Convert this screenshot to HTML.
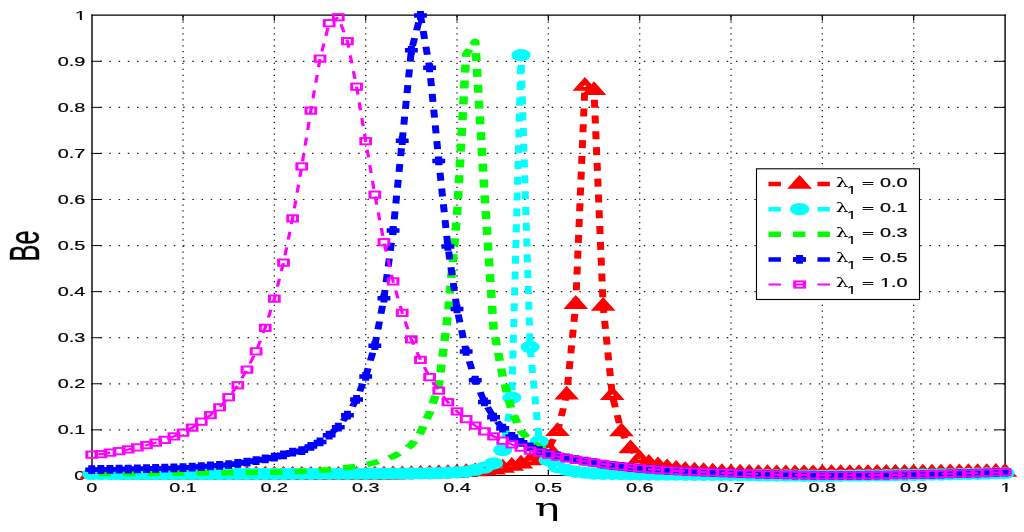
<!DOCTYPE html>
<html lang="en"><head><meta charset="utf-8"><title>Be vs η</title><style>html,body{margin:0;padding:0;background:#fff;overflow:hidden}body{width:1024px;height:532px}</style></head><body><svg width="1024" height="532" viewBox="0 0 1024 532" style="display:block"><defs><clipPath id="c0"><path d="M-16.8 -41.0H14.2V-5.4H3.4V1.0H-1.6V-5.4H-16.8Z"/></clipPath><clipPath id="c1"><path d="M-31.0 -41.0H-0.0V-5.4H-10.8V1.0H-15.9V-5.4H-31.0Z"/></clipPath><clipPath id="c2"><path d="M-2.2 -35.2H24.5V-4.6H15.2V0.9H10.8V-4.6H-2.2Z"/></clipPath><clipPath id="c3"><path d="M-2.6 -41.0H28.5V-5.4H17.7V1.0H12.6V-5.4H-2.6ZM28.5 -41.0H73.7V2.6H28.5Z"/></clipPath></defs><rect x="0" y="0" width="1024" height="532" fill="#fff"/>
<g stroke="#1a1a1a" fill="none"><line x1="183.03" y1="15.68" x2="183.03" y2="475.5" stroke-width="1.3" stroke-dasharray="1.25 4.647"/><line x1="274.36" y1="15.68" x2="274.36" y2="475.5" stroke-width="1.3" stroke-dasharray="1.25 4.647"/><line x1="365.69" y1="15.68" x2="365.69" y2="475.5" stroke-width="1.3" stroke-dasharray="1.25 4.647"/><line x1="457.02" y1="15.68" x2="457.02" y2="475.5" stroke-width="1.3" stroke-dasharray="1.25 4.647"/><line x1="548.35" y1="15.68" x2="548.35" y2="475.5" stroke-width="1.3" stroke-dasharray="1.25 4.647"/><line x1="639.68" y1="15.68" x2="639.68" y2="475.5" stroke-width="1.3" stroke-dasharray="1.25 4.647"/><line x1="731.01" y1="15.68" x2="731.01" y2="475.5" stroke-width="1.3" stroke-dasharray="1.25 4.647"/><line x1="822.34" y1="15.68" x2="822.34" y2="475.5" stroke-width="1.3" stroke-dasharray="1.25 4.647"/><line x1="913.67" y1="15.68" x2="913.67" y2="475.5" stroke-width="1.3" stroke-dasharray="1.25 4.647"/><line x1="90.95" y1="429.85" x2="1005.0" y2="429.85" stroke-width="1.2" stroke-dasharray="1.5 7.714"/><line x1="90.95" y1="383.78" x2="1005.0" y2="383.78" stroke-width="1.2" stroke-dasharray="1.5 7.714"/><line x1="90.95" y1="337.71" x2="1005.0" y2="337.71" stroke-width="1.2" stroke-dasharray="1.5 7.714"/><line x1="90.95" y1="291.64" x2="1005.0" y2="291.64" stroke-width="1.2" stroke-dasharray="1.5 7.714"/><line x1="90.95" y1="245.57" x2="1005.0" y2="245.57" stroke-width="1.2" stroke-dasharray="1.5 7.714"/><line x1="90.95" y1="199.50" x2="1005.0" y2="199.50" stroke-width="1.2" stroke-dasharray="1.5 7.714"/><line x1="90.95" y1="153.43" x2="1005.0" y2="153.43" stroke-width="1.2" stroke-dasharray="1.5 7.714"/><line x1="90.95" y1="107.36" x2="1005.0" y2="107.36" stroke-width="1.2" stroke-dasharray="1.5 7.714"/><line x1="90.95" y1="61.29" x2="1005.0" y2="61.29" stroke-width="1.2" stroke-dasharray="1.5 7.714"/></g>
<path d="M92.0 14.6V476.1M1005.1 14.6V476.1" stroke="#000" stroke-width="1.4" fill="none"/><path d="M91.4 15.2H1005.7M91.4 475.5H1005.7" stroke="#000" stroke-width="1.2" fill="none"/><path d="M183.03 475.5v-5.5M183.03 15.2v5.5" stroke="#000" stroke-width="1.2"/><path d="M91.7 429.85h10.0M1005.0 429.85h-10.0" stroke="#000" stroke-width="1"/><path d="M274.36 475.5v-5.5M274.36 15.2v5.5" stroke="#000" stroke-width="1.2"/><path d="M91.7 383.78h10.0M1005.0 383.78h-10.0" stroke="#000" stroke-width="1"/><path d="M365.69 475.5v-5.5M365.69 15.2v5.5" stroke="#000" stroke-width="1.2"/><path d="M91.7 337.71h10.0M1005.0 337.71h-10.0" stroke="#000" stroke-width="1"/><path d="M457.02 475.5v-5.5M457.02 15.2v5.5" stroke="#000" stroke-width="1.2"/><path d="M91.7 291.64h10.0M1005.0 291.64h-10.0" stroke="#000" stroke-width="1"/><path d="M548.35 475.5v-5.5M548.35 15.2v5.5" stroke="#000" stroke-width="1.2"/><path d="M91.7 245.57h10.0M1005.0 245.57h-10.0" stroke="#000" stroke-width="1"/><path d="M639.68 475.5v-5.5M639.68 15.2v5.5" stroke="#000" stroke-width="1.2"/><path d="M91.7 199.50h10.0M1005.0 199.50h-10.0" stroke="#000" stroke-width="1"/><path d="M731.01 475.5v-5.5M731.01 15.2v5.5" stroke="#000" stroke-width="1.2"/><path d="M91.7 153.43h10.0M1005.0 153.43h-10.0" stroke="#000" stroke-width="1"/><path d="M822.34 475.5v-5.5M822.34 15.2v5.5" stroke="#000" stroke-width="1.2"/><path d="M91.7 107.36h10.0M1005.0 107.36h-10.0" stroke="#000" stroke-width="1"/><path d="M913.67 475.5v-5.5M913.67 15.2v5.5" stroke="#000" stroke-width="1.2"/><path d="M91.7 61.29h10.0M1005.0 61.29h-10.0" stroke="#000" stroke-width="1"/>
<text transform="translate(91.70,491.70) scale(0.3875,0.2500)" text-anchor="middle" font-family="'Liberation Sans', sans-serif" font-size="51.2" fill="#000" stroke="#000" stroke-width="0.8">0</text><text transform="translate(85.20,480.37) scale(0.3875,0.2500)" text-anchor="end" font-family="'Liberation Sans', sans-serif" font-size="51.2" fill="#000" stroke="#000" stroke-width="0.8">0</text><text transform="translate(183.03,491.70) scale(0.3875,0.2500)" text-anchor="middle" font-family="'Liberation Sans', sans-serif" font-size="51.2" fill="#000" stroke="#000" stroke-width="0.8">0.1</text><text transform="translate(85.20,434.30) scale(0.3875,0.2500)" text-anchor="end" font-family="'Liberation Sans', sans-serif" font-size="51.2" fill="#000" stroke="#000" stroke-width="0.8">0.1</text><text transform="translate(274.36,491.70) scale(0.3875,0.2500)" text-anchor="middle" font-family="'Liberation Sans', sans-serif" font-size="51.2" fill="#000" stroke="#000" stroke-width="0.8">0.2</text><text transform="translate(85.20,388.23) scale(0.3875,0.2500)" text-anchor="end" font-family="'Liberation Sans', sans-serif" font-size="51.2" fill="#000" stroke="#000" stroke-width="0.8">0.2</text><text transform="translate(365.69,491.70) scale(0.3875,0.2500)" text-anchor="middle" font-family="'Liberation Sans', sans-serif" font-size="51.2" fill="#000" stroke="#000" stroke-width="0.8">0.3</text><text transform="translate(85.20,342.16) scale(0.3875,0.2500)" text-anchor="end" font-family="'Liberation Sans', sans-serif" font-size="51.2" fill="#000" stroke="#000" stroke-width="0.8">0.3</text><text transform="translate(457.02,491.70) scale(0.3875,0.2500)" text-anchor="middle" font-family="'Liberation Sans', sans-serif" font-size="51.2" fill="#000" stroke="#000" stroke-width="0.8">0.4</text><text transform="translate(85.20,296.09) scale(0.3875,0.2500)" text-anchor="end" font-family="'Liberation Sans', sans-serif" font-size="51.2" fill="#000" stroke="#000" stroke-width="0.8">0.4</text><text transform="translate(548.35,491.70) scale(0.3875,0.2500)" text-anchor="middle" font-family="'Liberation Sans', sans-serif" font-size="51.2" fill="#000" stroke="#000" stroke-width="0.8">0.5</text><text transform="translate(85.20,250.02) scale(0.3875,0.2500)" text-anchor="end" font-family="'Liberation Sans', sans-serif" font-size="51.2" fill="#000" stroke="#000" stroke-width="0.8">0.5</text><text transform="translate(639.68,491.70) scale(0.3875,0.2500)" text-anchor="middle" font-family="'Liberation Sans', sans-serif" font-size="51.2" fill="#000" stroke="#000" stroke-width="0.8">0.6</text><text transform="translate(85.20,203.95) scale(0.3875,0.2500)" text-anchor="end" font-family="'Liberation Sans', sans-serif" font-size="51.2" fill="#000" stroke="#000" stroke-width="0.8">0.6</text><text transform="translate(731.01,491.70) scale(0.3875,0.2500)" text-anchor="middle" font-family="'Liberation Sans', sans-serif" font-size="51.2" fill="#000" stroke="#000" stroke-width="0.8">0.7</text><text transform="translate(85.20,157.88) scale(0.3875,0.2500)" text-anchor="end" font-family="'Liberation Sans', sans-serif" font-size="51.2" fill="#000" stroke="#000" stroke-width="0.8">0.7</text><text transform="translate(822.34,491.70) scale(0.3875,0.2500)" text-anchor="middle" font-family="'Liberation Sans', sans-serif" font-size="51.2" fill="#000" stroke="#000" stroke-width="0.8">0.8</text><text transform="translate(85.20,111.81) scale(0.3875,0.2500)" text-anchor="end" font-family="'Liberation Sans', sans-serif" font-size="51.2" fill="#000" stroke="#000" stroke-width="0.8">0.8</text><text transform="translate(913.67,491.70) scale(0.3875,0.2500)" text-anchor="middle" font-family="'Liberation Sans', sans-serif" font-size="51.2" fill="#000" stroke="#000" stroke-width="0.8">0.9</text><text transform="translate(85.20,65.74) scale(0.3875,0.2500)" text-anchor="end" font-family="'Liberation Sans', sans-serif" font-size="51.2" fill="#000" stroke="#000" stroke-width="0.8">0.9</text><text transform="translate(1005.90,491.70) scale(0.3875,0.2500)" text-anchor="middle" font-family="'Liberation Sans', sans-serif" font-size="51.2" fill="#000" stroke="#000" stroke-width="0.8" clip-path="url(#c0)">1</text><text transform="translate(86.10,19.67) scale(0.3875,0.2500)" text-anchor="end" font-family="'Liberation Sans', sans-serif" font-size="51.2" fill="#000" stroke="#000" stroke-width="0.8" clip-path="url(#c1)">1</text>
<text transform="translate(39.20,246.00) scale(0.4200,0.2500) rotate(-90)" text-anchor="middle" font-family="'Liberation Sans', sans-serif" font-size="101.2" fill="#000" stroke="#000" stroke-width="1.0">Be</text>
<text transform="translate(547.00,515.90) scale(0.4275,0.2500)" text-anchor="middle" font-family="'DejaVu Serif', 'Liberation Serif', serif" font-size="98.4" fill="#000">η</text>
<g transform="translate(91.7,0) scale(1.55,1)"><polyline points="0.00,474.02 5.89,474.23 11.78,474.43 17.68,474.61 23.57,474.78 29.46,474.94 35.35,474.95 41.25,474.96 47.14,474.97 53.03,474.98 58.92,474.99 64.81,475.00 70.71,475.01 76.60,475.02 82.49,475.03 88.38,475.03 94.28,475.04 100.17,475.05 106.06,475.06 111.95,475.07 117.85,475.08 123.74,475.09 129.63,475.10 135.52,475.11 141.41,475.12 147.31,475.13 153.20,475.13 159.09,475.14 164.98,475.15 170.88,475.16 176.77,475.17 182.66,475.05 188.55,474.92 194.44,474.78 200.34,474.63 206.23,474.48 212.12,474.25 218.01,473.99 223.91,473.72 229.80,473.42 235.69,473.10 241.58,472.46 247.47,471.72 253.37,470.87 259.26,469.88 265.15,468.04 271.04,466.20 276.94,463.90 282.83,460.68 288.72,456.08 294.61,448.72 300.51,431.47 306.40,394.90 312.29,304.28 318.18,86.24" fill="none" stroke="#f00" stroke-width="4.5" stroke-dasharray="8 7.8" stroke-dashoffset="12.04" stroke-linejoin="round"/>
<polyline points="318.18,86.24 318.18,86.24 324.07,90.38 329.97,306.12 335.86,395.36 341.75,431.70 347.64,448.72 353.54,458.84 359.43,463.21 365.32,465.74 371.21,467.67 377.10,469.11 383.00,470.34 388.89,470.96 394.78,471.52 400.67,472.03 406.57,472.49 412.46,472.92 418.35,473.07 424.24,473.23 430.13,473.37 436.03,473.52 441.92,473.65 447.81,473.63 453.70,473.62 459.60,473.60 465.49,473.58 471.38,473.56 477.27,473.52 483.17,473.47 489.06,473.43 494.95,473.38 500.84,473.34 506.73,473.29 512.63,473.24 518.52,473.20 524.41,473.15 530.30,473.10 536.20,473.02 542.09,472.93 547.98,472.84 553.87,472.75 559.76,472.66 565.66,472.57 571.55,472.48 577.44,472.38 583.33,472.28 589.23,472.18" fill="none" stroke="#f00" stroke-width="4.5" stroke-dasharray="8 7.8" stroke-dashoffset="15.07" stroke-linejoin="round"/>
<polygon points="0.00,468.77 -4.55,476.64 4.55,476.64" fill="none" stroke="#f00" stroke-width="3.95" stroke-linejoin="miter"/>
<polygon points="5.89,468.98 1.34,476.85 10.44,476.85" fill="none" stroke="#f00" stroke-width="3.95" stroke-linejoin="miter"/>
<polygon points="11.78,469.18 7.23,477.05 16.33,477.05" fill="none" stroke="#f00" stroke-width="3.95" stroke-linejoin="miter"/>
<polygon points="17.68,469.36 13.13,477.23 22.23,477.23" fill="none" stroke="#f00" stroke-width="3.95" stroke-linejoin="miter"/>
<polygon points="23.57,469.53 19.02,477.40 28.12,477.40" fill="none" stroke="#f00" stroke-width="3.95" stroke-linejoin="miter"/>
<polygon points="29.46,469.69 24.91,477.56 34.01,477.56" fill="none" stroke="#f00" stroke-width="3.95" stroke-linejoin="miter"/>
<polygon points="35.35,469.70 30.80,477.57 39.90,477.57" fill="none" stroke="#f00" stroke-width="3.95" stroke-linejoin="miter"/>
<polygon points="41.25,469.71 36.70,477.58 45.80,477.58" fill="none" stroke="#f00" stroke-width="3.95" stroke-linejoin="miter"/>
<polygon points="47.14,469.72 42.59,477.59 51.69,477.59" fill="none" stroke="#f00" stroke-width="3.95" stroke-linejoin="miter"/>
<polygon points="53.03,469.73 48.48,477.60 57.58,477.60" fill="none" stroke="#f00" stroke-width="3.95" stroke-linejoin="miter"/>
<polygon points="58.92,469.74 54.37,477.61 63.47,477.61" fill="none" stroke="#f00" stroke-width="3.95" stroke-linejoin="miter"/>
<polygon points="64.81,469.75 60.26,477.62 69.36,477.62" fill="none" stroke="#f00" stroke-width="3.95" stroke-linejoin="miter"/>
<polygon points="70.71,469.76 66.16,477.63 75.26,477.63" fill="none" stroke="#f00" stroke-width="3.95" stroke-linejoin="miter"/>
<polygon points="76.60,469.77 72.05,477.64 81.15,477.64" fill="none" stroke="#f00" stroke-width="3.95" stroke-linejoin="miter"/>
<polygon points="82.49,469.78 77.94,477.65 87.04,477.65" fill="none" stroke="#f00" stroke-width="3.95" stroke-linejoin="miter"/>
<polygon points="88.38,469.78 83.83,477.65 92.93,477.65" fill="none" stroke="#f00" stroke-width="3.95" stroke-linejoin="miter"/>
<polygon points="94.28,469.79 89.73,477.66 98.83,477.66" fill="none" stroke="#f00" stroke-width="3.95" stroke-linejoin="miter"/>
<polygon points="100.17,469.80 95.62,477.67 104.72,477.67" fill="none" stroke="#f00" stroke-width="3.95" stroke-linejoin="miter"/>
<polygon points="106.06,469.81 101.51,477.68 110.61,477.68" fill="none" stroke="#f00" stroke-width="3.95" stroke-linejoin="miter"/>
<polygon points="111.95,469.82 107.40,477.69 116.50,477.69" fill="none" stroke="#f00" stroke-width="3.95" stroke-linejoin="miter"/>
<polygon points="117.85,469.83 113.30,477.70 122.40,477.70" fill="none" stroke="#f00" stroke-width="3.95" stroke-linejoin="miter"/>
<polygon points="123.74,469.84 119.19,477.71 128.29,477.71" fill="none" stroke="#f00" stroke-width="3.95" stroke-linejoin="miter"/>
<polygon points="129.63,469.85 125.08,477.72 134.18,477.72" fill="none" stroke="#f00" stroke-width="3.95" stroke-linejoin="miter"/>
<polygon points="135.52,469.86 130.97,477.73 140.07,477.73" fill="none" stroke="#f00" stroke-width="3.95" stroke-linejoin="miter"/>
<polygon points="141.41,469.87 136.86,477.74 145.96,477.74" fill="none" stroke="#f00" stroke-width="3.95" stroke-linejoin="miter"/>
<polygon points="147.31,469.88 142.76,477.75 151.86,477.75" fill="none" stroke="#f00" stroke-width="3.95" stroke-linejoin="miter"/>
<polygon points="153.20,469.88 148.65,477.75 157.75,477.75" fill="none" stroke="#f00" stroke-width="3.95" stroke-linejoin="miter"/>
<polygon points="159.09,469.89 154.54,477.76 163.64,477.76" fill="none" stroke="#f00" stroke-width="3.95" stroke-linejoin="miter"/>
<polygon points="164.98,469.90 160.43,477.77 169.53,477.77" fill="none" stroke="#f00" stroke-width="3.95" stroke-linejoin="miter"/>
<polygon points="170.88,469.91 166.33,477.78 175.43,477.78" fill="none" stroke="#f00" stroke-width="3.95" stroke-linejoin="miter"/>
<polygon points="176.77,469.92 172.22,477.79 181.32,477.79" fill="none" stroke="#f00" stroke-width="3.95" stroke-linejoin="miter"/>
<polygon points="182.66,469.80 178.11,477.67 187.21,477.67" fill="none" stroke="#f00" stroke-width="3.95" stroke-linejoin="miter"/>
<polygon points="188.55,469.67 184.00,477.54 193.10,477.54" fill="none" stroke="#f00" stroke-width="3.95" stroke-linejoin="miter"/>
<polygon points="194.44,469.53 189.89,477.40 198.99,477.40" fill="none" stroke="#f00" stroke-width="3.95" stroke-linejoin="miter"/>
<polygon points="200.34,469.38 195.79,477.25 204.89,477.25" fill="none" stroke="#f00" stroke-width="3.95" stroke-linejoin="miter"/>
<polygon points="206.23,469.23 201.68,477.10 210.78,477.10" fill="none" stroke="#f00" stroke-width="3.95" stroke-linejoin="miter"/>
<polygon points="212.12,469.00 207.57,476.87 216.67,476.87" fill="none" stroke="#f00" stroke-width="3.95" stroke-linejoin="miter"/>
<polygon points="218.01,468.74 213.46,476.61 222.56,476.61" fill="none" stroke="#f00" stroke-width="3.95" stroke-linejoin="miter"/>
<polygon points="223.91,468.47 219.36,476.34 228.46,476.34" fill="none" stroke="#f00" stroke-width="3.95" stroke-linejoin="miter"/>
<polygon points="229.80,468.17 225.25,476.04 234.35,476.04" fill="none" stroke="#f00" stroke-width="3.95" stroke-linejoin="miter"/>
<polygon points="235.69,467.85 231.14,475.72 240.24,475.72" fill="none" stroke="#f00" stroke-width="3.95" stroke-linejoin="miter"/>
<polygon points="241.58,467.21 237.03,475.08 246.13,475.08" fill="none" stroke="#f00" stroke-width="3.95" stroke-linejoin="miter"/>
<polygon points="247.47,466.47 242.92,474.34 252.02,474.34" fill="none" stroke="#f00" stroke-width="3.95" stroke-linejoin="miter"/>
<polygon points="253.37,465.62 248.82,473.49 257.92,473.49" fill="none" stroke="#f00" stroke-width="3.95" stroke-linejoin="miter"/>
<polygon points="259.26,464.63 254.71,472.50 263.81,472.50" fill="none" stroke="#f00" stroke-width="3.95" stroke-linejoin="miter"/>
<polygon points="265.15,462.79 260.60,470.66 269.70,470.66" fill="none" stroke="#f00" stroke-width="3.95" stroke-linejoin="miter"/>
<polygon points="271.04,460.95 266.49,468.82 275.59,468.82" fill="none" stroke="#f00" stroke-width="3.95" stroke-linejoin="miter"/>
<polygon points="276.94,458.65 272.39,466.52 281.49,466.52" fill="none" stroke="#f00" stroke-width="3.95" stroke-linejoin="miter"/>
<polygon points="282.83,455.43 278.28,463.30 287.38,463.30" fill="none" stroke="#f00" stroke-width="3.95" stroke-linejoin="miter"/>
<polygon points="288.72,450.83 284.17,458.70 293.27,458.70" fill="none" stroke="#f00" stroke-width="3.95" stroke-linejoin="miter"/>
<polygon points="294.61,443.47 290.06,451.34 299.16,451.34" fill="none" stroke="#f00" stroke-width="3.95" stroke-linejoin="miter"/>
<polygon points="300.51,426.22 295.96,434.09 305.06,434.09" fill="none" stroke="#f00" stroke-width="3.95" stroke-linejoin="miter"/>
<polygon points="306.40,389.65 301.85,397.52 310.95,397.52" fill="none" stroke="#f00" stroke-width="3.95" stroke-linejoin="miter"/>
<polygon points="312.29,299.03 307.74,306.90 316.84,306.90" fill="none" stroke="#f00" stroke-width="3.95" stroke-linejoin="miter"/>
<polygon points="318.18,80.99 313.63,88.86 322.73,88.86" fill="none" stroke="#f00" stroke-width="3.95" stroke-linejoin="miter"/>
<polygon points="324.07,85.13 319.52,93.00 328.62,93.00" fill="none" stroke="#f00" stroke-width="3.95" stroke-linejoin="miter"/>
<polygon points="329.97,300.87 325.42,308.74 334.52,308.74" fill="none" stroke="#f00" stroke-width="3.95" stroke-linejoin="miter"/>
<polygon points="335.86,390.11 331.31,397.98 340.41,397.98" fill="none" stroke="#f00" stroke-width="3.95" stroke-linejoin="miter"/>
<polygon points="341.75,426.45 337.20,434.32 346.30,434.32" fill="none" stroke="#f00" stroke-width="3.95" stroke-linejoin="miter"/>
<polygon points="347.64,443.47 343.09,451.34 352.19,451.34" fill="none" stroke="#f00" stroke-width="3.95" stroke-linejoin="miter"/>
<polygon points="353.54,453.59 348.99,461.46 358.09,461.46" fill="none" stroke="#f00" stroke-width="3.95" stroke-linejoin="miter"/>
<polygon points="359.43,457.96 354.88,465.83 363.98,465.83" fill="none" stroke="#f00" stroke-width="3.95" stroke-linejoin="miter"/>
<polygon points="365.32,460.49 360.77,468.36 369.87,468.36" fill="none" stroke="#f00" stroke-width="3.95" stroke-linejoin="miter"/>
<polygon points="371.21,462.42 366.66,470.29 375.76,470.29" fill="none" stroke="#f00" stroke-width="3.95" stroke-linejoin="miter"/>
<polygon points="377.10,463.86 372.55,471.73 381.65,471.73" fill="none" stroke="#f00" stroke-width="3.95" stroke-linejoin="miter"/>
<polygon points="383.00,465.09 378.45,472.96 387.55,472.96" fill="none" stroke="#f00" stroke-width="3.95" stroke-linejoin="miter"/>
<polygon points="388.89,465.71 384.34,473.58 393.44,473.58" fill="none" stroke="#f00" stroke-width="3.95" stroke-linejoin="miter"/>
<polygon points="394.78,466.27 390.23,474.14 399.33,474.14" fill="none" stroke="#f00" stroke-width="3.95" stroke-linejoin="miter"/>
<polygon points="400.67,466.78 396.12,474.65 405.22,474.65" fill="none" stroke="#f00" stroke-width="3.95" stroke-linejoin="miter"/>
<polygon points="406.57,467.24 402.02,475.11 411.12,475.11" fill="none" stroke="#f00" stroke-width="3.95" stroke-linejoin="miter"/>
<polygon points="412.46,467.67 407.91,475.54 417.01,475.54" fill="none" stroke="#f00" stroke-width="3.95" stroke-linejoin="miter"/>
<polygon points="418.35,467.82 413.80,475.69 422.90,475.69" fill="none" stroke="#f00" stroke-width="3.95" stroke-linejoin="miter"/>
<polygon points="424.24,467.98 419.69,475.85 428.79,475.85" fill="none" stroke="#f00" stroke-width="3.95" stroke-linejoin="miter"/>
<polygon points="430.13,468.12 425.58,475.99 434.68,475.99" fill="none" stroke="#f00" stroke-width="3.95" stroke-linejoin="miter"/>
<polygon points="436.03,468.27 431.48,476.14 440.58,476.14" fill="none" stroke="#f00" stroke-width="3.95" stroke-linejoin="miter"/>
<polygon points="441.92,468.40 437.37,476.27 446.47,476.27" fill="none" stroke="#f00" stroke-width="3.95" stroke-linejoin="miter"/>
<polygon points="447.81,468.38 443.26,476.25 452.36,476.25" fill="none" stroke="#f00" stroke-width="3.95" stroke-linejoin="miter"/>
<polygon points="453.70,468.37 449.15,476.24 458.25,476.24" fill="none" stroke="#f00" stroke-width="3.95" stroke-linejoin="miter"/>
<polygon points="459.60,468.35 455.05,476.22 464.15,476.22" fill="none" stroke="#f00" stroke-width="3.95" stroke-linejoin="miter"/>
<polygon points="465.49,468.33 460.94,476.20 470.04,476.20" fill="none" stroke="#f00" stroke-width="3.95" stroke-linejoin="miter"/>
<polygon points="471.38,468.31 466.83,476.18 475.93,476.18" fill="none" stroke="#f00" stroke-width="3.95" stroke-linejoin="miter"/>
<polygon points="477.27,468.27 472.72,476.14 481.82,476.14" fill="none" stroke="#f00" stroke-width="3.95" stroke-linejoin="miter"/>
<polygon points="483.17,468.22 478.62,476.09 487.72,476.09" fill="none" stroke="#f00" stroke-width="3.95" stroke-linejoin="miter"/>
<polygon points="489.06,468.18 484.51,476.05 493.61,476.05" fill="none" stroke="#f00" stroke-width="3.95" stroke-linejoin="miter"/>
<polygon points="494.95,468.13 490.40,476.00 499.50,476.00" fill="none" stroke="#f00" stroke-width="3.95" stroke-linejoin="miter"/>
<polygon points="500.84,468.09 496.29,475.96 505.39,475.96" fill="none" stroke="#f00" stroke-width="3.95" stroke-linejoin="miter"/>
<polygon points="506.73,468.04 502.18,475.91 511.28,475.91" fill="none" stroke="#f00" stroke-width="3.95" stroke-linejoin="miter"/>
<polygon points="512.63,467.99 508.08,475.86 517.18,475.86" fill="none" stroke="#f00" stroke-width="3.95" stroke-linejoin="miter"/>
<polygon points="518.52,467.95 513.97,475.82 523.07,475.82" fill="none" stroke="#f00" stroke-width="3.95" stroke-linejoin="miter"/>
<polygon points="524.41,467.90 519.86,475.77 528.96,475.77" fill="none" stroke="#f00" stroke-width="3.95" stroke-linejoin="miter"/>
<polygon points="530.30,467.85 525.75,475.72 534.85,475.72" fill="none" stroke="#f00" stroke-width="3.95" stroke-linejoin="miter"/>
<polygon points="536.20,467.77 531.65,475.64 540.75,475.64" fill="none" stroke="#f00" stroke-width="3.95" stroke-linejoin="miter"/>
<polygon points="542.09,467.68 537.54,475.55 546.64,475.55" fill="none" stroke="#f00" stroke-width="3.95" stroke-linejoin="miter"/>
<polygon points="547.98,467.59 543.43,475.46 552.53,475.46" fill="none" stroke="#f00" stroke-width="3.95" stroke-linejoin="miter"/>
<polygon points="553.87,467.50 549.32,475.37 558.42,475.37" fill="none" stroke="#f00" stroke-width="3.95" stroke-linejoin="miter"/>
<polygon points="559.76,467.41 555.21,475.28 564.31,475.28" fill="none" stroke="#f00" stroke-width="3.95" stroke-linejoin="miter"/>
<polygon points="565.66,467.32 561.11,475.19 570.21,475.19" fill="none" stroke="#f00" stroke-width="3.95" stroke-linejoin="miter"/>
<polygon points="571.55,467.23 567.00,475.10 576.10,475.10" fill="none" stroke="#f00" stroke-width="3.95" stroke-linejoin="miter"/>
<polygon points="577.44,467.13 572.89,475.00 581.99,475.00" fill="none" stroke="#f00" stroke-width="3.95" stroke-linejoin="miter"/>
<polygon points="583.33,467.03 578.78,474.90 587.88,474.90" fill="none" stroke="#f00" stroke-width="3.95" stroke-linejoin="miter"/>
<polygon points="589.23,466.93 584.68,474.80 593.78,474.80" fill="none" stroke="#f00" stroke-width="3.95" stroke-linejoin="miter"/>
<polyline points="0.00,474.02 5.89,474.02 11.78,474.02 17.68,474.02 23.57,474.02 29.46,474.02 35.35,474.02 41.25,474.02 47.14,474.02 53.03,474.02 58.92,474.02 64.81,474.02 70.71,474.02 76.60,474.02 82.49,474.02 88.38,474.02 94.28,474.02 100.17,474.02 106.06,474.02 111.95,474.02 117.85,474.02 123.74,474.00 129.63,473.98 135.52,473.95 141.41,473.93 147.31,473.91 153.20,473.88 159.09,473.86 164.98,473.84 170.88,473.81 176.77,473.79 182.66,473.75 188.55,473.70 194.44,473.65 200.34,473.61 206.23,473.56 212.12,473.41 218.01,473.26 223.91,473.10 229.80,472.77 235.69,472.41 241.58,471.72 247.47,469.88 253.37,467.58 259.26,463.44 265.15,450.10 271.04,397.66 276.94,55.14" fill="none" stroke="#0ff" stroke-width="4.5" stroke-dasharray="8 7.8" stroke-dashoffset="11.39" stroke-linejoin="round"/>
<polyline points="276.94,55.14 276.94,55.14 282.83,347.06 288.72,441.36 294.61,460.22 300.51,467.12 306.40,469.88 312.29,471.72 318.18,472.64 324.07,473.56 329.97,473.77 335.86,473.96 341.75,474.14 347.64,474.32 353.54,474.48 359.43,474.53 365.32,474.58 371.21,474.63 377.10,474.67 383.00,474.72 388.89,474.77 394.78,474.81 400.67,474.85 406.57,474.90 412.46,474.94 418.35,475.05 424.24,475.16 430.13,475.27 436.03,475.37 441.92,475.46 447.81,475.55 453.70,475.63 459.60,475.71 465.49,475.79 471.38,475.86 477.27,475.79 483.17,475.71 489.06,475.63 494.95,475.55 500.84,475.46 506.73,475.37 512.63,475.27 518.52,475.16 524.41,475.05 530.30,474.94 536.20,474.80 542.09,474.65 547.98,474.50 553.87,474.33 559.76,474.15 565.66,473.97 571.55,473.77 577.44,473.56 583.33,473.34 589.23,473.10" fill="none" stroke="#0ff" stroke-width="4.5" stroke-dasharray="8 7.8" stroke-dashoffset="6.14" stroke-linejoin="round"/>
<circle cx="0.00" cy="474.02" r="3.4" fill="none" stroke="#0ff" stroke-width="5.6"/>
<circle cx="5.89" cy="474.02" r="3.4" fill="none" stroke="#0ff" stroke-width="5.6"/>
<circle cx="11.78" cy="474.02" r="3.4" fill="none" stroke="#0ff" stroke-width="5.6"/>
<circle cx="17.68" cy="474.02" r="3.4" fill="none" stroke="#0ff" stroke-width="5.6"/>
<circle cx="23.57" cy="474.02" r="3.4" fill="none" stroke="#0ff" stroke-width="5.6"/>
<circle cx="29.46" cy="474.02" r="3.4" fill="none" stroke="#0ff" stroke-width="5.6"/>
<circle cx="35.35" cy="474.02" r="3.4" fill="none" stroke="#0ff" stroke-width="5.6"/>
<circle cx="41.25" cy="474.02" r="3.4" fill="none" stroke="#0ff" stroke-width="5.6"/>
<circle cx="47.14" cy="474.02" r="3.4" fill="none" stroke="#0ff" stroke-width="5.6"/>
<circle cx="53.03" cy="474.02" r="3.4" fill="none" stroke="#0ff" stroke-width="5.6"/>
<circle cx="58.92" cy="474.02" r="3.4" fill="none" stroke="#0ff" stroke-width="5.6"/>
<circle cx="64.81" cy="474.02" r="3.4" fill="none" stroke="#0ff" stroke-width="5.6"/>
<circle cx="70.71" cy="474.02" r="3.4" fill="none" stroke="#0ff" stroke-width="5.6"/>
<circle cx="76.60" cy="474.02" r="3.4" fill="none" stroke="#0ff" stroke-width="5.6"/>
<circle cx="82.49" cy="474.02" r="3.4" fill="none" stroke="#0ff" stroke-width="5.6"/>
<circle cx="88.38" cy="474.02" r="3.4" fill="none" stroke="#0ff" stroke-width="5.6"/>
<circle cx="94.28" cy="474.02" r="3.4" fill="none" stroke="#0ff" stroke-width="5.6"/>
<circle cx="100.17" cy="474.02" r="3.4" fill="none" stroke="#0ff" stroke-width="5.6"/>
<circle cx="106.06" cy="474.02" r="3.4" fill="none" stroke="#0ff" stroke-width="5.6"/>
<circle cx="111.95" cy="474.02" r="3.4" fill="none" stroke="#0ff" stroke-width="5.6"/>
<circle cx="117.85" cy="474.02" r="3.4" fill="none" stroke="#0ff" stroke-width="5.6"/>
<circle cx="123.74" cy="474.00" r="3.4" fill="none" stroke="#0ff" stroke-width="5.6"/>
<circle cx="129.63" cy="473.98" r="3.4" fill="none" stroke="#0ff" stroke-width="5.6"/>
<circle cx="135.52" cy="473.95" r="3.4" fill="none" stroke="#0ff" stroke-width="5.6"/>
<circle cx="141.41" cy="473.93" r="3.4" fill="none" stroke="#0ff" stroke-width="5.6"/>
<circle cx="147.31" cy="473.91" r="3.4" fill="none" stroke="#0ff" stroke-width="5.6"/>
<circle cx="153.20" cy="473.88" r="3.4" fill="none" stroke="#0ff" stroke-width="5.6"/>
<circle cx="159.09" cy="473.86" r="3.4" fill="none" stroke="#0ff" stroke-width="5.6"/>
<circle cx="164.98" cy="473.84" r="3.4" fill="none" stroke="#0ff" stroke-width="5.6"/>
<circle cx="170.88" cy="473.81" r="3.4" fill="none" stroke="#0ff" stroke-width="5.6"/>
<circle cx="176.77" cy="473.79" r="3.4" fill="none" stroke="#0ff" stroke-width="5.6"/>
<circle cx="182.66" cy="473.75" r="3.4" fill="none" stroke="#0ff" stroke-width="5.6"/>
<circle cx="188.55" cy="473.70" r="3.4" fill="none" stroke="#0ff" stroke-width="5.6"/>
<circle cx="194.44" cy="473.65" r="3.4" fill="none" stroke="#0ff" stroke-width="5.6"/>
<circle cx="200.34" cy="473.61" r="3.4" fill="none" stroke="#0ff" stroke-width="5.6"/>
<circle cx="206.23" cy="473.56" r="3.4" fill="none" stroke="#0ff" stroke-width="5.6"/>
<circle cx="212.12" cy="473.41" r="3.4" fill="none" stroke="#0ff" stroke-width="5.6"/>
<circle cx="218.01" cy="473.26" r="3.4" fill="none" stroke="#0ff" stroke-width="5.6"/>
<circle cx="223.91" cy="473.10" r="3.4" fill="none" stroke="#0ff" stroke-width="5.6"/>
<circle cx="229.80" cy="472.77" r="3.4" fill="none" stroke="#0ff" stroke-width="5.6"/>
<circle cx="235.69" cy="472.41" r="3.4" fill="none" stroke="#0ff" stroke-width="5.6"/>
<circle cx="241.58" cy="471.72" r="3.4" fill="none" stroke="#0ff" stroke-width="5.6"/>
<circle cx="247.47" cy="469.88" r="3.4" fill="none" stroke="#0ff" stroke-width="5.6"/>
<circle cx="253.37" cy="467.58" r="3.4" fill="none" stroke="#0ff" stroke-width="5.6"/>
<circle cx="259.26" cy="463.44" r="3.4" fill="none" stroke="#0ff" stroke-width="5.6"/>
<circle cx="265.15" cy="450.10" r="3.4" fill="none" stroke="#0ff" stroke-width="5.6"/>
<circle cx="271.04" cy="397.66" r="3.4" fill="none" stroke="#0ff" stroke-width="5.6"/>
<circle cx="276.94" cy="55.14" r="3.4" fill="none" stroke="#0ff" stroke-width="5.6"/>
<circle cx="282.83" cy="347.06" r="3.4" fill="none" stroke="#0ff" stroke-width="5.6"/>
<circle cx="288.72" cy="441.36" r="3.4" fill="none" stroke="#0ff" stroke-width="5.6"/>
<circle cx="294.61" cy="460.22" r="3.4" fill="none" stroke="#0ff" stroke-width="5.6"/>
<circle cx="300.51" cy="467.12" r="3.4" fill="none" stroke="#0ff" stroke-width="5.6"/>
<circle cx="306.40" cy="469.88" r="3.4" fill="none" stroke="#0ff" stroke-width="5.6"/>
<circle cx="312.29" cy="471.72" r="3.4" fill="none" stroke="#0ff" stroke-width="5.6"/>
<circle cx="318.18" cy="472.64" r="3.4" fill="none" stroke="#0ff" stroke-width="5.6"/>
<circle cx="324.07" cy="473.56" r="3.4" fill="none" stroke="#0ff" stroke-width="5.6"/>
<circle cx="329.97" cy="473.77" r="3.4" fill="none" stroke="#0ff" stroke-width="5.6"/>
<circle cx="335.86" cy="473.96" r="3.4" fill="none" stroke="#0ff" stroke-width="5.6"/>
<circle cx="341.75" cy="474.14" r="3.4" fill="none" stroke="#0ff" stroke-width="5.6"/>
<circle cx="347.64" cy="474.32" r="3.4" fill="none" stroke="#0ff" stroke-width="5.6"/>
<circle cx="353.54" cy="474.48" r="3.4" fill="none" stroke="#0ff" stroke-width="5.6"/>
<circle cx="359.43" cy="474.53" r="3.4" fill="none" stroke="#0ff" stroke-width="5.6"/>
<circle cx="365.32" cy="474.58" r="3.4" fill="none" stroke="#0ff" stroke-width="5.6"/>
<circle cx="371.21" cy="474.63" r="3.4" fill="none" stroke="#0ff" stroke-width="5.6"/>
<circle cx="377.10" cy="474.67" r="3.4" fill="none" stroke="#0ff" stroke-width="5.6"/>
<circle cx="383.00" cy="474.72" r="3.4" fill="none" stroke="#0ff" stroke-width="5.6"/>
<circle cx="388.89" cy="474.77" r="3.4" fill="none" stroke="#0ff" stroke-width="5.6"/>
<circle cx="394.78" cy="474.81" r="3.4" fill="none" stroke="#0ff" stroke-width="5.6"/>
<circle cx="400.67" cy="474.85" r="3.4" fill="none" stroke="#0ff" stroke-width="5.6"/>
<circle cx="406.57" cy="474.90" r="3.4" fill="none" stroke="#0ff" stroke-width="5.6"/>
<circle cx="412.46" cy="474.94" r="3.4" fill="none" stroke="#0ff" stroke-width="5.6"/>
<circle cx="418.35" cy="475.05" r="3.4" fill="none" stroke="#0ff" stroke-width="5.6"/>
<circle cx="424.24" cy="475.16" r="3.4" fill="none" stroke="#0ff" stroke-width="5.6"/>
<circle cx="430.13" cy="475.27" r="3.4" fill="none" stroke="#0ff" stroke-width="5.6"/>
<circle cx="436.03" cy="475.37" r="3.4" fill="none" stroke="#0ff" stroke-width="5.6"/>
<circle cx="441.92" cy="475.46" r="3.4" fill="none" stroke="#0ff" stroke-width="5.6"/>
<circle cx="447.81" cy="475.55" r="3.4" fill="none" stroke="#0ff" stroke-width="5.6"/>
<circle cx="453.70" cy="475.63" r="3.4" fill="none" stroke="#0ff" stroke-width="5.6"/>
<circle cx="459.60" cy="475.71" r="3.4" fill="none" stroke="#0ff" stroke-width="5.6"/>
<circle cx="465.49" cy="475.79" r="3.4" fill="none" stroke="#0ff" stroke-width="5.6"/>
<circle cx="471.38" cy="475.86" r="3.4" fill="none" stroke="#0ff" stroke-width="5.6"/>
<circle cx="477.27" cy="475.79" r="3.4" fill="none" stroke="#0ff" stroke-width="5.6"/>
<circle cx="483.17" cy="475.71" r="3.4" fill="none" stroke="#0ff" stroke-width="5.6"/>
<circle cx="489.06" cy="475.63" r="3.4" fill="none" stroke="#0ff" stroke-width="5.6"/>
<circle cx="494.95" cy="475.55" r="3.4" fill="none" stroke="#0ff" stroke-width="5.6"/>
<circle cx="500.84" cy="475.46" r="3.4" fill="none" stroke="#0ff" stroke-width="5.6"/>
<circle cx="506.73" cy="475.37" r="3.4" fill="none" stroke="#0ff" stroke-width="5.6"/>
<circle cx="512.63" cy="475.27" r="3.4" fill="none" stroke="#0ff" stroke-width="5.6"/>
<circle cx="518.52" cy="475.16" r="3.4" fill="none" stroke="#0ff" stroke-width="5.6"/>
<circle cx="524.41" cy="475.05" r="3.4" fill="none" stroke="#0ff" stroke-width="5.6"/>
<circle cx="530.30" cy="474.94" r="3.4" fill="none" stroke="#0ff" stroke-width="5.6"/>
<circle cx="536.20" cy="474.80" r="3.4" fill="none" stroke="#0ff" stroke-width="5.6"/>
<circle cx="542.09" cy="474.65" r="3.4" fill="none" stroke="#0ff" stroke-width="5.6"/>
<circle cx="547.98" cy="474.50" r="3.4" fill="none" stroke="#0ff" stroke-width="5.6"/>
<circle cx="553.87" cy="474.33" r="3.4" fill="none" stroke="#0ff" stroke-width="5.6"/>
<circle cx="559.76" cy="474.15" r="3.4" fill="none" stroke="#0ff" stroke-width="5.6"/>
<circle cx="565.66" cy="473.97" r="3.4" fill="none" stroke="#0ff" stroke-width="5.6"/>
<circle cx="571.55" cy="473.77" r="3.4" fill="none" stroke="#0ff" stroke-width="5.6"/>
<circle cx="577.44" cy="473.56" r="3.4" fill="none" stroke="#0ff" stroke-width="5.6"/>
<circle cx="583.33" cy="473.34" r="3.4" fill="none" stroke="#0ff" stroke-width="5.6"/>
<circle cx="589.23" cy="473.10" r="3.4" fill="none" stroke="#0ff" stroke-width="5.6"/>
<polyline points="0.00,473.56 5.89,473.52 11.78,473.47 17.68,473.43 23.57,473.38 29.46,473.34 35.35,473.29 41.25,473.24 47.14,473.20 53.03,473.15 58.92,473.10 64.81,473.02 70.71,472.93 76.60,472.84 82.49,472.75 88.38,472.66 94.28,472.57 100.17,472.48 106.06,472.38 111.95,472.28 117.85,472.18 123.74,471.93 129.63,471.67 135.52,471.40 141.41,470.87 147.31,470.28 153.20,469.65 159.09,468.64 164.98,467.49 170.88,466.23 176.77,464.82 182.66,462.51 188.55,459.76 194.44,456.54 200.34,451.48 206.23,445.04 212.12,432.62 218.01,412.66 223.91,385.70 229.80,314.40 235.69,215.50 241.58,54.04 246.00,44.56" fill="none" stroke="#0f0" stroke-width="5.5" stroke-dasharray="8 7.8" stroke-dashoffset="11.32" stroke-linejoin="round"/>
<polyline points="246.00,44.56 247.47,41.39 253.37,192.50 259.26,328.20 265.15,376.50 271.04,411.00 276.94,431.24 282.83,440.90 288.72,446.88 294.61,451.48 300.51,454.41 306.40,457.00 312.29,459.10 318.18,460.97 324.07,462.66 329.97,464.05 335.86,465.31 341.75,466.45 347.64,467.48 353.54,468.41 359.43,469.11 365.32,469.75 371.21,470.35 377.10,470.89 383.00,471.40 388.89,471.80 394.78,472.17 400.67,472.52 406.57,472.84 412.46,473.15 418.35,473.51 424.24,473.84 430.13,474.14 436.03,474.41 441.92,474.66 447.81,474.83 453.70,474.99 459.60,475.13 465.49,475.27 471.38,475.40 477.27,475.37 483.17,475.35 489.06,475.32 494.95,475.29 500.84,475.26 506.73,475.15 512.63,475.04 518.52,474.92 524.41,474.80 530.30,474.66 536.20,474.47 542.09,474.27 547.98,474.05 553.87,473.81 559.76,473.56 565.66,473.32 571.55,473.06 577.44,472.79 583.33,472.49 589.23,472.18" fill="none" stroke="#0f0" stroke-width="5.5" stroke-dasharray="8 7.8" stroke-dashoffset="0.50" stroke-linejoin="round"/>
<polyline points="0.00,469.65 5.89,469.50 11.78,469.35 17.68,469.19 23.57,469.03 29.46,468.87 35.35,468.64 41.25,468.41 47.14,468.17 53.03,467.92 58.92,467.67 64.81,467.13 70.71,466.56 76.60,465.95 82.49,465.31 88.38,464.64 94.28,463.40 100.17,462.05 106.06,460.56 111.95,458.93 117.85,457.14 123.74,454.79 129.63,452.17 135.52,450.65 141.41,446.42 147.31,441.91 153.20,435.15 159.09,427.15 164.98,415.14 170.88,399.41 176.77,376.41 182.66,345.63 188.55,298.16 194.44,230.40 200.34,140.66 206.23,50.36 212.12,15.40" fill="none" stroke="#00f" stroke-width="4.5" stroke-dasharray="8 7.8" stroke-dashoffset="11.30" stroke-linejoin="round"/>
<polyline points="212.12,15.40 212.12,15.40 218.01,67.84 223.91,160.90 229.80,246.41 235.69,308.88 241.58,351.38 247.47,380.18 253.37,401.89 259.26,417.16 265.15,428.16 271.04,436.39 276.94,442.28 282.83,446.88 288.72,450.56 294.61,453.78 300.51,455.91 306.40,457.84 312.29,459.60 318.18,461.20 324.07,462.66 329.97,464.05 335.86,465.31 341.75,466.45 347.64,467.48 353.54,468.41 359.43,469.11 365.32,469.75 371.21,470.35 377.10,470.89 383.00,471.40 388.89,471.80 394.78,472.17 400.67,472.52 406.57,472.84 412.46,473.15 418.35,473.51 424.24,473.84 430.13,474.14 436.03,474.41 441.92,474.66 447.81,474.83 453.70,474.99 459.60,475.13 465.49,475.27 471.38,475.40 477.27,475.37 483.17,475.35 489.06,475.32 494.95,475.29 500.84,475.26 506.73,475.15 512.63,475.04 518.52,474.92 524.41,474.80 530.30,474.66 536.20,474.47 542.09,474.27 547.98,474.05 553.87,473.81 559.76,473.56 565.66,473.32 571.55,473.06 577.44,472.79 583.33,472.49 589.23,472.18" fill="none" stroke="#00f" stroke-width="4.5" stroke-dasharray="8 7.8" stroke-dashoffset="0.11" stroke-linejoin="round"/>
<path d="M-4.15 469.65H4.15M0.00 465.25V474.05" stroke="#00f" stroke-width="4.5" fill="none"/>
<path d="M1.74 469.50H10.04M5.89 465.10V473.90" stroke="#00f" stroke-width="4.5" fill="none"/>
<path d="M7.63 469.35H15.93M11.78 464.95V473.75" stroke="#00f" stroke-width="4.5" fill="none"/>
<path d="M13.53 469.19H21.83M17.68 464.79V473.59" stroke="#00f" stroke-width="4.5" fill="none"/>
<path d="M19.42 469.03H27.72M23.57 464.63V473.43" stroke="#00f" stroke-width="4.5" fill="none"/>
<path d="M25.31 468.87H33.61M29.46 464.47V473.27" stroke="#00f" stroke-width="4.5" fill="none"/>
<path d="M31.20 468.64H39.50M35.35 464.24V473.04" stroke="#00f" stroke-width="4.5" fill="none"/>
<path d="M37.10 468.41H45.40M41.25 464.01V472.81" stroke="#00f" stroke-width="4.5" fill="none"/>
<path d="M42.99 468.17H51.29M47.14 463.77V472.57" stroke="#00f" stroke-width="4.5" fill="none"/>
<path d="M48.88 467.92H57.18M53.03 463.52V472.32" stroke="#00f" stroke-width="4.5" fill="none"/>
<path d="M54.77 467.67H63.07M58.92 463.27V472.07" stroke="#00f" stroke-width="4.5" fill="none"/>
<path d="M60.66 467.13H68.96M64.81 462.73V471.53" stroke="#00f" stroke-width="4.5" fill="none"/>
<path d="M66.56 466.56H74.86M70.71 462.16V470.96" stroke="#00f" stroke-width="4.5" fill="none"/>
<path d="M72.45 465.95H80.75M76.60 461.55V470.35" stroke="#00f" stroke-width="4.5" fill="none"/>
<path d="M78.34 465.31H86.64M82.49 460.91V469.71" stroke="#00f" stroke-width="4.5" fill="none"/>
<path d="M84.23 464.64H92.53M88.38 460.24V469.04" stroke="#00f" stroke-width="4.5" fill="none"/>
<path d="M90.13 463.40H98.43M94.28 459.00V467.80" stroke="#00f" stroke-width="4.5" fill="none"/>
<path d="M96.02 462.05H104.32M100.17 457.65V466.45" stroke="#00f" stroke-width="4.5" fill="none"/>
<path d="M101.91 460.56H110.21M106.06 456.16V464.96" stroke="#00f" stroke-width="4.5" fill="none"/>
<path d="M107.80 458.93H116.10M111.95 454.53V463.33" stroke="#00f" stroke-width="4.5" fill="none"/>
<path d="M113.70 457.14H122.00M117.85 452.74V461.54" stroke="#00f" stroke-width="4.5" fill="none"/>
<path d="M119.59 454.79H127.89M123.74 450.39V459.19" stroke="#00f" stroke-width="4.5" fill="none"/>
<path d="M125.48 452.17H133.78M129.63 447.77V456.57" stroke="#00f" stroke-width="4.5" fill="none"/>
<path d="M131.37 450.65H139.67M135.52 446.25V455.05" stroke="#00f" stroke-width="4.5" fill="none"/>
<path d="M137.26 446.42H145.56M141.41 442.02V450.82" stroke="#00f" stroke-width="4.5" fill="none"/>
<path d="M143.16 441.91H151.46M147.31 437.51V446.31" stroke="#00f" stroke-width="4.5" fill="none"/>
<path d="M149.05 435.15H157.35M153.20 430.75V439.55" stroke="#00f" stroke-width="4.5" fill="none"/>
<path d="M154.94 427.15H163.24M159.09 422.75V431.55" stroke="#00f" stroke-width="4.5" fill="none"/>
<path d="M160.83 415.14H169.13M164.98 410.74V419.54" stroke="#00f" stroke-width="4.5" fill="none"/>
<path d="M166.73 399.41H175.03M170.88 395.01V403.81" stroke="#00f" stroke-width="4.5" fill="none"/>
<path d="M172.62 376.41H180.92M176.77 372.01V380.81" stroke="#00f" stroke-width="4.5" fill="none"/>
<path d="M178.51 345.63H186.81M182.66 341.23V350.03" stroke="#00f" stroke-width="4.5" fill="none"/>
<path d="M184.40 298.16H192.70M188.55 293.76V302.56" stroke="#00f" stroke-width="4.5" fill="none"/>
<path d="M190.29 230.40H198.59M194.44 226.00V234.80" stroke="#00f" stroke-width="4.5" fill="none"/>
<path d="M196.19 140.66H204.49M200.34 136.26V145.06" stroke="#00f" stroke-width="4.5" fill="none"/>
<path d="M202.08 50.36H210.38M206.23 45.96V54.76" stroke="#00f" stroke-width="4.5" fill="none"/>
<path d="M207.97 15.40H216.27M212.12 11.00V19.80" stroke="#00f" stroke-width="4.5" fill="none"/>
<path d="M213.86 67.84H222.16M218.01 63.44V72.24" stroke="#00f" stroke-width="4.5" fill="none"/>
<path d="M219.76 160.90H228.06M223.91 156.50V165.30" stroke="#00f" stroke-width="4.5" fill="none"/>
<path d="M225.65 246.41H233.95M229.80 242.01V250.81" stroke="#00f" stroke-width="4.5" fill="none"/>
<path d="M231.54 308.88H239.84M235.69 304.48V313.28" stroke="#00f" stroke-width="4.5" fill="none"/>
<path d="M237.43 351.38H245.73M241.58 346.98V355.78" stroke="#00f" stroke-width="4.5" fill="none"/>
<path d="M243.32 380.18H251.62M247.47 375.78V384.58" stroke="#00f" stroke-width="4.5" fill="none"/>
<path d="M249.22 401.89H257.52M253.37 397.49V406.29" stroke="#00f" stroke-width="4.5" fill="none"/>
<path d="M255.11 417.16H263.41M259.26 412.76V421.56" stroke="#00f" stroke-width="4.5" fill="none"/>
<path d="M261.00 428.16H269.30M265.15 423.76V432.56" stroke="#00f" stroke-width="4.5" fill="none"/>
<path d="M266.89 436.39H275.19M271.04 431.99V440.79" stroke="#00f" stroke-width="4.5" fill="none"/>
<path d="M272.79 442.28H281.09M276.94 437.88V446.68" stroke="#00f" stroke-width="4.5" fill="none"/>
<path d="M278.68 446.88H286.98M282.83 442.48V451.28" stroke="#00f" stroke-width="4.5" fill="none"/>
<path d="M284.57 450.56H292.87M288.72 446.16V454.96" stroke="#00f" stroke-width="4.5" fill="none"/>
<path d="M290.46 453.78H298.76M294.61 449.38V458.18" stroke="#00f" stroke-width="4.5" fill="none"/>
<path d="M296.36 455.91H304.66M300.51 451.51V460.31" stroke="#00f" stroke-width="4.5" fill="none"/>
<path d="M302.25 457.84H310.55M306.40 453.44V462.24" stroke="#00f" stroke-width="4.5" fill="none"/>
<path d="M308.14 459.60H316.44M312.29 455.20V464.00" stroke="#00f" stroke-width="4.5" fill="none"/>
<path d="M314.03 461.20H322.33M318.18 456.80V465.60" stroke="#00f" stroke-width="4.5" fill="none"/>
<path d="M319.92 462.66H328.22M324.07 458.26V467.06" stroke="#00f" stroke-width="4.5" fill="none"/>
<path d="M325.82 464.05H334.12M329.97 459.65V468.45" stroke="#00f" stroke-width="4.5" fill="none"/>
<path d="M331.71 465.31H340.01M335.86 460.91V469.71" stroke="#00f" stroke-width="4.5" fill="none"/>
<path d="M337.60 466.45H345.90M341.75 462.05V470.85" stroke="#00f" stroke-width="4.5" fill="none"/>
<path d="M343.49 467.48H351.79M347.64 463.08V471.88" stroke="#00f" stroke-width="4.5" fill="none"/>
<path d="M349.39 468.41H357.69M353.54 464.01V472.81" stroke="#00f" stroke-width="4.5" fill="none"/>
<path d="M355.28 469.11H363.58M359.43 464.71V473.51" stroke="#00f" stroke-width="4.5" fill="none"/>
<path d="M361.17 469.75H369.47M365.32 465.35V474.15" stroke="#00f" stroke-width="4.5" fill="none"/>
<path d="M367.06 470.35H375.36M371.21 465.95V474.75" stroke="#00f" stroke-width="4.5" fill="none"/>
<path d="M372.95 470.89H381.25M377.10 466.49V475.29" stroke="#00f" stroke-width="4.5" fill="none"/>
<path d="M378.85 471.40H387.15M383.00 467.00V475.80" stroke="#00f" stroke-width="4.5" fill="none"/>
<path d="M384.74 471.80H393.04M388.89 467.40V476.20" stroke="#00f" stroke-width="4.5" fill="none"/>
<path d="M390.63 472.17H398.93M394.78 467.77V476.57" stroke="#00f" stroke-width="4.5" fill="none"/>
<path d="M396.52 472.52H404.82M400.67 468.12V476.92" stroke="#00f" stroke-width="4.5" fill="none"/>
<path d="M402.42 472.84H410.72M406.57 468.44V477.24" stroke="#00f" stroke-width="4.5" fill="none"/>
<path d="M408.31 473.15H416.61M412.46 468.75V477.55" stroke="#00f" stroke-width="4.5" fill="none"/>
<path d="M414.20 473.51H422.50M418.35 469.11V477.91" stroke="#00f" stroke-width="4.5" fill="none"/>
<path d="M420.09 473.84H428.39M424.24 469.44V478.24" stroke="#00f" stroke-width="4.5" fill="none"/>
<path d="M425.98 474.14H434.28M430.13 469.74V478.54" stroke="#00f" stroke-width="4.5" fill="none"/>
<path d="M431.88 474.41H440.18M436.03 470.01V478.81" stroke="#00f" stroke-width="4.5" fill="none"/>
<path d="M437.77 474.66H446.07M441.92 470.26V479.06" stroke="#00f" stroke-width="4.5" fill="none"/>
<path d="M443.66 474.83H451.96M447.81 470.43V479.23" stroke="#00f" stroke-width="4.5" fill="none"/>
<path d="M449.55 474.99H457.85M453.70 470.59V479.39" stroke="#00f" stroke-width="4.5" fill="none"/>
<path d="M455.45 475.13H463.75M459.60 470.73V479.53" stroke="#00f" stroke-width="4.5" fill="none"/>
<path d="M461.34 475.27H469.64M465.49 470.87V479.67" stroke="#00f" stroke-width="4.5" fill="none"/>
<path d="M467.23 475.40H475.53M471.38 471.00V479.80" stroke="#00f" stroke-width="4.5" fill="none"/>
<path d="M473.12 475.37H481.42M477.27 470.97V479.77" stroke="#00f" stroke-width="4.5" fill="none"/>
<path d="M479.02 475.35H487.32M483.17 470.95V479.75" stroke="#00f" stroke-width="4.5" fill="none"/>
<path d="M484.91 475.32H493.21M489.06 470.92V479.72" stroke="#00f" stroke-width="4.5" fill="none"/>
<path d="M490.80 475.29H499.10M494.95 470.89V479.69" stroke="#00f" stroke-width="4.5" fill="none"/>
<path d="M496.69 475.26H504.99M500.84 470.86V479.66" stroke="#00f" stroke-width="4.5" fill="none"/>
<path d="M502.58 475.15H510.88M506.73 470.75V479.55" stroke="#00f" stroke-width="4.5" fill="none"/>
<path d="M508.48 475.04H516.78M512.63 470.64V479.44" stroke="#00f" stroke-width="4.5" fill="none"/>
<path d="M514.37 474.92H522.67M518.52 470.52V479.32" stroke="#00f" stroke-width="4.5" fill="none"/>
<path d="M520.26 474.80H528.56M524.41 470.40V479.20" stroke="#00f" stroke-width="4.5" fill="none"/>
<path d="M526.15 474.66H534.45M530.30 470.26V479.06" stroke="#00f" stroke-width="4.5" fill="none"/>
<path d="M532.05 474.47H540.35M536.20 470.07V478.87" stroke="#00f" stroke-width="4.5" fill="none"/>
<path d="M537.94 474.27H546.24M542.09 469.87V478.67" stroke="#00f" stroke-width="4.5" fill="none"/>
<path d="M543.83 474.05H552.13M547.98 469.65V478.45" stroke="#00f" stroke-width="4.5" fill="none"/>
<path d="M549.72 473.81H558.02M553.87 469.41V478.21" stroke="#00f" stroke-width="4.5" fill="none"/>
<path d="M555.61 473.56H563.91M559.76 469.16V477.96" stroke="#00f" stroke-width="4.5" fill="none"/>
<path d="M561.51 473.32H569.81M565.66 468.92V477.72" stroke="#00f" stroke-width="4.5" fill="none"/>
<path d="M567.40 473.06H575.70M571.55 468.66V477.46" stroke="#00f" stroke-width="4.5" fill="none"/>
<path d="M573.29 472.79H581.59M577.44 468.39V477.19" stroke="#00f" stroke-width="4.5" fill="none"/>
<path d="M579.18 472.49H587.48M583.33 468.09V476.89" stroke="#00f" stroke-width="4.5" fill="none"/>
<path d="M585.08 472.18H593.38M589.23 467.78V476.58" stroke="#00f" stroke-width="4.5" fill="none"/>
<polyline points="0.00,454.65 5.89,454.15 11.78,452.63 17.68,451.16 23.57,449.41 29.46,447.39 35.35,445.13 41.25,442.65 47.14,439.89 53.03,436.39 58.92,432.67 64.81,427.65 70.71,421.67 76.60,415.14 82.49,407.32 88.38,397.20 94.28,385.24 100.17,369.65 106.06,351.38 111.95,327.88 117.85,298.67 123.74,262.65 129.63,218.40 135.52,166.42 141.41,110.62 147.31,58.64 153.20,23.22 159.09,17.24" fill="none" stroke="#f0f" stroke-width="2.1" stroke-dasharray="8 7.8" stroke-dashoffset="11.64" stroke-linejoin="round"/>
<polyline points="159.09,17.24 159.09,17.24 164.98,41.16 170.88,86.70 176.77,141.16 182.66,194.66 188.55,242.18 194.44,281.42 200.34,312.88 206.23,339.38 212.12,359.89 218.01,377.14 223.91,390.67 229.80,402.17 235.69,411.41 241.58,419.14 247.47,425.63 253.37,431.38 259.26,436.39 265.15,440.67 271.04,444.40 276.94,447.66 282.83,450.65 288.72,452.63 294.61,454.65 300.51,456.55 306.40,458.28 312.29,459.87 318.18,461.32 324.07,462.66 329.97,464.05 335.86,465.31 341.75,466.45 347.64,467.48 353.54,468.41 359.43,469.11 365.32,469.75 371.21,470.35 377.10,470.89 383.00,471.40 388.89,471.80 394.78,472.17 400.67,472.52 406.57,472.84 412.46,473.15 418.35,473.51 424.24,473.84 430.13,474.14 436.03,474.41 441.92,474.66 447.81,474.83 453.70,474.99 459.60,475.13 465.49,475.27 471.38,475.40 477.27,475.37 483.17,475.35 489.06,475.32 494.95,475.29 500.84,475.26 506.73,475.15 512.63,475.04 518.52,474.92 524.41,474.80 530.30,474.66 536.20,474.47 542.09,474.27 547.98,474.05 553.87,473.81 559.76,473.56 565.66,473.32 571.55,473.06 577.44,472.79 583.33,472.49 589.23,472.18" fill="none" stroke="#f0f" stroke-width="2.1" stroke-dasharray="8 7.8" stroke-dashoffset="8.46" stroke-linejoin="round"/>
<rect x="-3.15" y="451.50" width="6.3" height="6.3" fill="none" stroke="#f0f" stroke-width="1.9"/>
<rect x="2.74" y="451.00" width="6.3" height="6.3" fill="none" stroke="#f0f" stroke-width="1.9"/>
<rect x="8.63" y="449.48" width="6.3" height="6.3" fill="none" stroke="#f0f" stroke-width="1.9"/>
<rect x="14.53" y="448.01" width="6.3" height="6.3" fill="none" stroke="#f0f" stroke-width="1.9"/>
<rect x="20.42" y="446.26" width="6.3" height="6.3" fill="none" stroke="#f0f" stroke-width="1.9"/>
<rect x="26.31" y="444.24" width="6.3" height="6.3" fill="none" stroke="#f0f" stroke-width="1.9"/>
<rect x="32.20" y="441.98" width="6.3" height="6.3" fill="none" stroke="#f0f" stroke-width="1.9"/>
<rect x="38.10" y="439.50" width="6.3" height="6.3" fill="none" stroke="#f0f" stroke-width="1.9"/>
<rect x="43.99" y="436.74" width="6.3" height="6.3" fill="none" stroke="#f0f" stroke-width="1.9"/>
<rect x="49.88" y="433.24" width="6.3" height="6.3" fill="none" stroke="#f0f" stroke-width="1.9"/>
<rect x="55.77" y="429.52" width="6.3" height="6.3" fill="none" stroke="#f0f" stroke-width="1.9"/>
<rect x="61.66" y="424.50" width="6.3" height="6.3" fill="none" stroke="#f0f" stroke-width="1.9"/>
<rect x="67.56" y="418.52" width="6.3" height="6.3" fill="none" stroke="#f0f" stroke-width="1.9"/>
<rect x="73.45" y="411.99" width="6.3" height="6.3" fill="none" stroke="#f0f" stroke-width="1.9"/>
<rect x="79.34" y="404.17" width="6.3" height="6.3" fill="none" stroke="#f0f" stroke-width="1.9"/>
<rect x="85.23" y="394.05" width="6.3" height="6.3" fill="none" stroke="#f0f" stroke-width="1.9"/>
<rect x="91.13" y="382.09" width="6.3" height="6.3" fill="none" stroke="#f0f" stroke-width="1.9"/>
<rect x="97.02" y="366.50" width="6.3" height="6.3" fill="none" stroke="#f0f" stroke-width="1.9"/>
<rect x="102.91" y="348.23" width="6.3" height="6.3" fill="none" stroke="#f0f" stroke-width="1.9"/>
<rect x="108.80" y="324.73" width="6.3" height="6.3" fill="none" stroke="#f0f" stroke-width="1.9"/>
<rect x="114.70" y="295.52" width="6.3" height="6.3" fill="none" stroke="#f0f" stroke-width="1.9"/>
<rect x="120.59" y="259.50" width="6.3" height="6.3" fill="none" stroke="#f0f" stroke-width="1.9"/>
<rect x="126.48" y="215.25" width="6.3" height="6.3" fill="none" stroke="#f0f" stroke-width="1.9"/>
<rect x="132.37" y="163.27" width="6.3" height="6.3" fill="none" stroke="#f0f" stroke-width="1.9"/>
<rect x="138.26" y="107.47" width="6.3" height="6.3" fill="none" stroke="#f0f" stroke-width="1.9"/>
<rect x="144.16" y="55.49" width="6.3" height="6.3" fill="none" stroke="#f0f" stroke-width="1.9"/>
<rect x="150.05" y="20.07" width="6.3" height="6.3" fill="none" stroke="#f0f" stroke-width="1.9"/>
<rect x="155.94" y="14.09" width="6.3" height="6.3" fill="none" stroke="#f0f" stroke-width="1.9"/>
<rect x="161.83" y="38.01" width="6.3" height="6.3" fill="none" stroke="#f0f" stroke-width="1.9"/>
<rect x="167.73" y="83.55" width="6.3" height="6.3" fill="none" stroke="#f0f" stroke-width="1.9"/>
<rect x="173.62" y="138.01" width="6.3" height="6.3" fill="none" stroke="#f0f" stroke-width="1.9"/>
<rect x="179.51" y="191.51" width="6.3" height="6.3" fill="none" stroke="#f0f" stroke-width="1.9"/>
<rect x="185.40" y="239.03" width="6.3" height="6.3" fill="none" stroke="#f0f" stroke-width="1.9"/>
<rect x="191.29" y="278.27" width="6.3" height="6.3" fill="none" stroke="#f0f" stroke-width="1.9"/>
<rect x="197.19" y="309.73" width="6.3" height="6.3" fill="none" stroke="#f0f" stroke-width="1.9"/>
<rect x="203.08" y="336.23" width="6.3" height="6.3" fill="none" stroke="#f0f" stroke-width="1.9"/>
<rect x="208.97" y="356.74" width="6.3" height="6.3" fill="none" stroke="#f0f" stroke-width="1.9"/>
<rect x="214.86" y="373.99" width="6.3" height="6.3" fill="none" stroke="#f0f" stroke-width="1.9"/>
<rect x="220.76" y="387.52" width="6.3" height="6.3" fill="none" stroke="#f0f" stroke-width="1.9"/>
<rect x="226.65" y="399.02" width="6.3" height="6.3" fill="none" stroke="#f0f" stroke-width="1.9"/>
<rect x="232.54" y="408.26" width="6.3" height="6.3" fill="none" stroke="#f0f" stroke-width="1.9"/>
<rect x="238.43" y="415.99" width="6.3" height="6.3" fill="none" stroke="#f0f" stroke-width="1.9"/>
<rect x="244.32" y="422.48" width="6.3" height="6.3" fill="none" stroke="#f0f" stroke-width="1.9"/>
<rect x="250.22" y="428.23" width="6.3" height="6.3" fill="none" stroke="#f0f" stroke-width="1.9"/>
<rect x="256.11" y="433.24" width="6.3" height="6.3" fill="none" stroke="#f0f" stroke-width="1.9"/>
<rect x="262.00" y="437.52" width="6.3" height="6.3" fill="none" stroke="#f0f" stroke-width="1.9"/>
<rect x="267.89" y="441.25" width="6.3" height="6.3" fill="none" stroke="#f0f" stroke-width="1.9"/>
<rect x="273.79" y="444.51" width="6.3" height="6.3" fill="none" stroke="#f0f" stroke-width="1.9"/>
<rect x="279.68" y="447.50" width="6.3" height="6.3" fill="none" stroke="#f0f" stroke-width="1.9"/>
<rect x="285.57" y="449.48" width="6.3" height="6.3" fill="none" stroke="#f0f" stroke-width="1.9"/>
<rect x="291.46" y="451.50" width="6.3" height="6.3" fill="none" stroke="#f0f" stroke-width="1.9"/>
<rect x="297.36" y="453.40" width="6.3" height="6.3" fill="none" stroke="#f0f" stroke-width="1.9"/>
<rect x="303.25" y="455.13" width="6.3" height="6.3" fill="none" stroke="#f0f" stroke-width="1.9"/>
<rect x="309.14" y="456.72" width="6.3" height="6.3" fill="none" stroke="#f0f" stroke-width="1.9"/>
<rect x="315.03" y="458.17" width="6.3" height="6.3" fill="none" stroke="#f0f" stroke-width="1.9"/>
<rect x="320.92" y="459.51" width="6.3" height="6.3" fill="none" stroke="#f0f" stroke-width="1.9"/>
<rect x="326.82" y="460.90" width="6.3" height="6.3" fill="none" stroke="#f0f" stroke-width="1.9"/>
<rect x="332.71" y="462.16" width="6.3" height="6.3" fill="none" stroke="#f0f" stroke-width="1.9"/>
<rect x="338.60" y="463.30" width="6.3" height="6.3" fill="none" stroke="#f0f" stroke-width="1.9"/>
<rect x="344.49" y="464.33" width="6.3" height="6.3" fill="none" stroke="#f0f" stroke-width="1.9"/>
<rect x="350.39" y="465.26" width="6.3" height="6.3" fill="none" stroke="#f0f" stroke-width="1.9"/>
<rect x="356.28" y="465.96" width="6.3" height="6.3" fill="none" stroke="#f0f" stroke-width="1.9"/>
<rect x="362.17" y="466.60" width="6.3" height="6.3" fill="none" stroke="#f0f" stroke-width="1.9"/>
<rect x="368.06" y="467.20" width="6.3" height="6.3" fill="none" stroke="#f0f" stroke-width="1.9"/>
<rect x="373.95" y="467.74" width="6.3" height="6.3" fill="none" stroke="#f0f" stroke-width="1.9"/>
<rect x="379.85" y="468.25" width="6.3" height="6.3" fill="none" stroke="#f0f" stroke-width="1.9"/>
<rect x="385.74" y="468.65" width="6.3" height="6.3" fill="none" stroke="#f0f" stroke-width="1.9"/>
<rect x="391.63" y="469.02" width="6.3" height="6.3" fill="none" stroke="#f0f" stroke-width="1.9"/>
<rect x="397.52" y="469.37" width="6.3" height="6.3" fill="none" stroke="#f0f" stroke-width="1.9"/>
<rect x="403.42" y="469.69" width="6.3" height="6.3" fill="none" stroke="#f0f" stroke-width="1.9"/>
<rect x="409.31" y="470.00" width="6.3" height="6.3" fill="none" stroke="#f0f" stroke-width="1.9"/>
<rect x="415.20" y="470.36" width="6.3" height="6.3" fill="none" stroke="#f0f" stroke-width="1.9"/>
<rect x="421.09" y="470.69" width="6.3" height="6.3" fill="none" stroke="#f0f" stroke-width="1.9"/>
<rect x="426.98" y="470.99" width="6.3" height="6.3" fill="none" stroke="#f0f" stroke-width="1.9"/>
<rect x="432.88" y="471.26" width="6.3" height="6.3" fill="none" stroke="#f0f" stroke-width="1.9"/>
<rect x="438.77" y="471.51" width="6.3" height="6.3" fill="none" stroke="#f0f" stroke-width="1.9"/>
<rect x="444.66" y="471.68" width="6.3" height="6.3" fill="none" stroke="#f0f" stroke-width="1.9"/>
<rect x="450.55" y="471.84" width="6.3" height="6.3" fill="none" stroke="#f0f" stroke-width="1.9"/>
<rect x="456.45" y="471.98" width="6.3" height="6.3" fill="none" stroke="#f0f" stroke-width="1.9"/>
<rect x="462.34" y="472.12" width="6.3" height="6.3" fill="none" stroke="#f0f" stroke-width="1.9"/>
<rect x="468.23" y="472.25" width="6.3" height="6.3" fill="none" stroke="#f0f" stroke-width="1.9"/>
<rect x="474.12" y="472.22" width="6.3" height="6.3" fill="none" stroke="#f0f" stroke-width="1.9"/>
<rect x="480.02" y="472.20" width="6.3" height="6.3" fill="none" stroke="#f0f" stroke-width="1.9"/>
<rect x="485.91" y="472.17" width="6.3" height="6.3" fill="none" stroke="#f0f" stroke-width="1.9"/>
<rect x="491.80" y="472.14" width="6.3" height="6.3" fill="none" stroke="#f0f" stroke-width="1.9"/>
<rect x="497.69" y="472.11" width="6.3" height="6.3" fill="none" stroke="#f0f" stroke-width="1.9"/>
<rect x="503.58" y="472.00" width="6.3" height="6.3" fill="none" stroke="#f0f" stroke-width="1.9"/>
<rect x="509.48" y="471.89" width="6.3" height="6.3" fill="none" stroke="#f0f" stroke-width="1.9"/>
<rect x="515.37" y="471.77" width="6.3" height="6.3" fill="none" stroke="#f0f" stroke-width="1.9"/>
<rect x="521.26" y="471.65" width="6.3" height="6.3" fill="none" stroke="#f0f" stroke-width="1.9"/>
<rect x="527.15" y="471.51" width="6.3" height="6.3" fill="none" stroke="#f0f" stroke-width="1.9"/>
<rect x="533.05" y="471.32" width="6.3" height="6.3" fill="none" stroke="#f0f" stroke-width="1.9"/>
<rect x="538.94" y="471.12" width="6.3" height="6.3" fill="none" stroke="#f0f" stroke-width="1.9"/>
<rect x="544.83" y="470.90" width="6.3" height="6.3" fill="none" stroke="#f0f" stroke-width="1.9"/>
<rect x="550.72" y="470.66" width="6.3" height="6.3" fill="none" stroke="#f0f" stroke-width="1.9"/>
<rect x="556.61" y="470.41" width="6.3" height="6.3" fill="none" stroke="#f0f" stroke-width="1.9"/>
<rect x="562.51" y="470.17" width="6.3" height="6.3" fill="none" stroke="#f0f" stroke-width="1.9"/>
<rect x="568.40" y="469.91" width="6.3" height="6.3" fill="none" stroke="#f0f" stroke-width="1.9"/>
<rect x="574.29" y="469.64" width="6.3" height="6.3" fill="none" stroke="#f0f" stroke-width="1.9"/>
<rect x="580.18" y="469.34" width="6.3" height="6.3" fill="none" stroke="#f0f" stroke-width="1.9"/>
<rect x="586.08" y="469.03" width="6.3" height="6.3" fill="none" stroke="#f0f" stroke-width="1.9"/></g>
<rect x="756.5" y="168.8" width="163.0" height="130.7" fill="#fff" stroke="#000" stroke-width="1.1"/><g transform="translate(91.7,0) scale(1.55,1)"><line x1="436.65" y1="184.10" x2="476.77" y2="184.10" stroke="#f00" stroke-width="4.5" stroke-dasharray="8 7.8"/><polygon points="456.71,178.85 452.16,186.72 461.26,186.72" fill="none" stroke="#f00" stroke-width="3.95" stroke-linejoin="miter"/><line x1="436.65" y1="209.20" x2="476.77" y2="209.20" stroke="#0ff" stroke-width="4.5" stroke-dasharray="8 7.8"/><circle cx="456.71" cy="209.20" r="3.4" fill="none" stroke="#0ff" stroke-width="5.6"/><line x1="436.65" y1="234.30" x2="476.77" y2="234.30" stroke="#0f0" stroke-width="5.5" stroke-dasharray="8 7.8"/><line x1="436.65" y1="259.40" x2="476.77" y2="259.40" stroke="#00f" stroke-width="4.5" stroke-dasharray="8 7.8"/><path d="M452.56 259.40H460.86M456.71 255.00V263.80" stroke="#00f" stroke-width="4.5" fill="none"/><line x1="436.65" y1="284.50" x2="476.77" y2="284.50" stroke="#f0f" stroke-width="2.1" stroke-dasharray="8 7.8"/><rect x="453.56" y="281.35" width="6.3" height="6.3" fill="none" stroke="#f0f" stroke-width="1.9"/></g><text transform="translate(835.80,186.60) scale(0.3875,0.2500)" text-anchor="start" font-family="'DejaVu Serif', 'Liberation Serif', serif" font-size="52" fill="#000">λ</text><text transform="translate(846.90,193.70) scale(0.3875,0.2500)" text-anchor="start" font-family="'Liberation Sans', sans-serif" font-size="44" fill="#000" stroke="#000" stroke-width="0.8" clip-path="url(#c2)">1</text><text transform="translate(862.30,185.90) scale(0.3875,0.1700)" text-anchor="start" font-family="'Liberation Sans', sans-serif" font-size="51.2" fill="#000" stroke="#000" stroke-width="2.4">=</text><text transform="translate(879.90,186.80) scale(0.3875,0.2500)" text-anchor="start" font-family="'Liberation Sans', sans-serif" font-size="51.2" fill="#000" stroke="#000" stroke-width="0.8">0.0</text><text transform="translate(835.80,211.70) scale(0.3875,0.2500)" text-anchor="start" font-family="'DejaVu Serif', 'Liberation Serif', serif" font-size="52" fill="#000">λ</text><text transform="translate(846.90,218.80) scale(0.3875,0.2500)" text-anchor="start" font-family="'Liberation Sans', sans-serif" font-size="44" fill="#000" stroke="#000" stroke-width="0.8" clip-path="url(#c2)">1</text><text transform="translate(862.30,211.00) scale(0.3875,0.1700)" text-anchor="start" font-family="'Liberation Sans', sans-serif" font-size="51.2" fill="#000" stroke="#000" stroke-width="2.4">=</text><text transform="translate(879.90,211.90) scale(0.3875,0.2500)" text-anchor="start" font-family="'Liberation Sans', sans-serif" font-size="51.2" fill="#000" stroke="#000" stroke-width="0.8">0.1</text><text transform="translate(835.80,236.80) scale(0.3875,0.2500)" text-anchor="start" font-family="'DejaVu Serif', 'Liberation Serif', serif" font-size="52" fill="#000">λ</text><text transform="translate(846.90,243.90) scale(0.3875,0.2500)" text-anchor="start" font-family="'Liberation Sans', sans-serif" font-size="44" fill="#000" stroke="#000" stroke-width="0.8" clip-path="url(#c2)">1</text><text transform="translate(862.30,236.10) scale(0.3875,0.1700)" text-anchor="start" font-family="'Liberation Sans', sans-serif" font-size="51.2" fill="#000" stroke="#000" stroke-width="2.4">=</text><text transform="translate(879.90,237.00) scale(0.3875,0.2500)" text-anchor="start" font-family="'Liberation Sans', sans-serif" font-size="51.2" fill="#000" stroke="#000" stroke-width="0.8">0.3</text><text transform="translate(835.80,261.90) scale(0.3875,0.2500)" text-anchor="start" font-family="'DejaVu Serif', 'Liberation Serif', serif" font-size="52" fill="#000">λ</text><text transform="translate(846.90,269.00) scale(0.3875,0.2500)" text-anchor="start" font-family="'Liberation Sans', sans-serif" font-size="44" fill="#000" stroke="#000" stroke-width="0.8" clip-path="url(#c2)">1</text><text transform="translate(862.30,261.20) scale(0.3875,0.1700)" text-anchor="start" font-family="'Liberation Sans', sans-serif" font-size="51.2" fill="#000" stroke="#000" stroke-width="2.4">=</text><text transform="translate(879.90,262.10) scale(0.3875,0.2500)" text-anchor="start" font-family="'Liberation Sans', sans-serif" font-size="51.2" fill="#000" stroke="#000" stroke-width="0.8">0.5</text><text transform="translate(835.80,287.00) scale(0.3875,0.2500)" text-anchor="start" font-family="'DejaVu Serif', 'Liberation Serif', serif" font-size="52" fill="#000">λ</text><text transform="translate(846.90,294.10) scale(0.3875,0.2500)" text-anchor="start" font-family="'Liberation Sans', sans-serif" font-size="44" fill="#000" stroke="#000" stroke-width="0.8" clip-path="url(#c2)">1</text><text transform="translate(862.30,286.30) scale(0.3875,0.1700)" text-anchor="start" font-family="'Liberation Sans', sans-serif" font-size="51.2" fill="#000" stroke="#000" stroke-width="2.4">=</text><text transform="translate(879.90,287.20) scale(0.3875,0.2500)" text-anchor="start" font-family="'Liberation Sans', sans-serif" font-size="51.2" fill="#000" stroke="#000" stroke-width="0.8" clip-path="url(#c3)">1.0</text></svg></body></html>
